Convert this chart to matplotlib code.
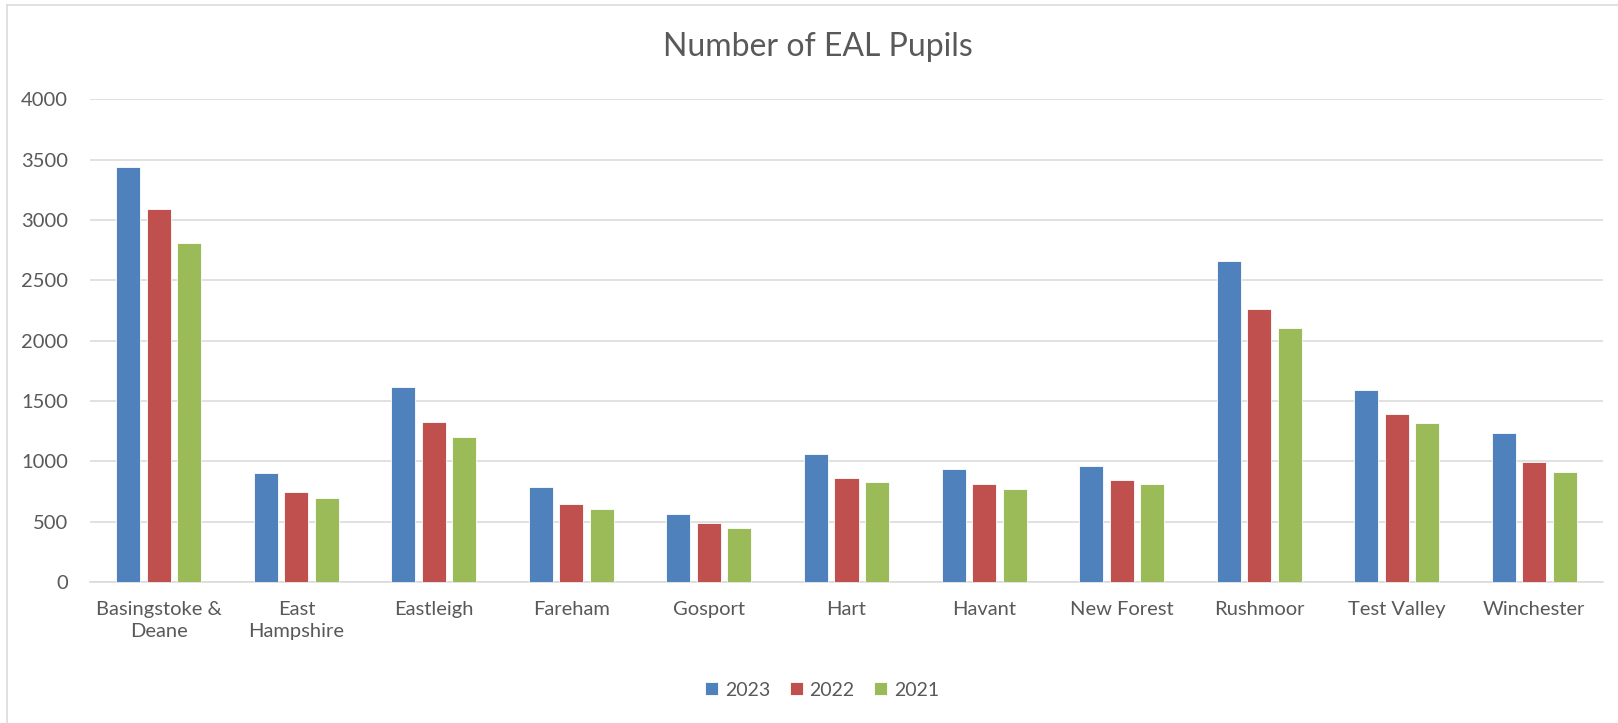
import numpy as np
import matplotlib.pyplot as plt
from matplotlib.lines import Line2D

# data
districts = ["Basingstoke &\nDeane", "East\nHampshire", "Eastleigh", "Fareham", "Gosport",
             "Hart", "Havant", "New Forest", "Rushmoor", "Test Valley", "Winchester"]
years = ["2023", "2022", "2021"]
pupils_2023 = [3436, 903, 1619, 787, 566, 1061, 934, 959, 2663, 1594, 1235]
pupils_2022 = [3091, 746, 1326, 644, 486, 859, 809, 845, 2262, 1395, 997]
pupils_2021 = [2807, 699, 1199, 605, 445, 829, 771, 809, 2102, 1315, 914]
yticks = [0, 500, 1000, 1500, 2000, 2500, 3000, 3500, 4000]

colours = ["#4F81BD", "#C0504D", "#9BBB59"]
txt = "#595959"
grid = "#D9D9D9"

plt.rcParams['font.family'] = ['Lato', 'DejaVu Sans']

fig = plt.figure(figsize=(16.18, 7.23), dpi=100)
ax = fig.add_axes([90 / 1618, 1 - 582 / 723, 1513 / 1618, (582 - 99.3) / 723])

x = np.arange(len(districts))
w = 0.1745
step = 0.222
for i, vals in enumerate([pupils_2023, pupils_2022, pupils_2021]):
    ax.bar(x + (i - 1) * step, vals, width=w, color=colours[i],
           edgecolor="white", linewidth=0.6, label=years[i], zorder=3)

ax.set_xlim(-0.5, len(districts) - 0.5)
ax.set_ylim(0, 4000)
ax.set_yticks(yticks)
ax.set_xticks(x)
ax.set_xticklabels(districts, linespacing=1.3)
ax.yaxis.grid(True, color=grid, linewidth=1.1, zorder=0)
ax.tick_params(axis='both', length=0, labelsize=14.5, labelcolor=txt)
ax.tick_params(axis='x', pad=14)
ax.tick_params(axis='y', pad=16)
for s in ['top', 'right', 'left']:
    ax.spines[s].set_visible(False)
ax.spines['bottom'].set_color(grid)
ax.spines['bottom'].set_linewidth(1.1)

fig.text(818 / 1618, 1 - 47 / 723, "Number of EAL Pupils", ha='center', va='center',
         fontsize=23, color=txt)

leg = fig.legend(loc='center', bbox_to_anchor=(822 / 1618, 1 - 690 / 723), ncol=3,
                 frameon=False, fontsize=14, handlelength=0.67, handleheight=0.67,
                 handletextpad=0.35, columnspacing=1.0, borderpad=0)
for t in leg.get_texts():
    t.set_color(txt)

# chart border (left and top edges visible)
fig.add_artist(Line2D([6.5 / 1618, 6.5 / 1618], [0, 1 - 5 / 723], color=grid, lw=1.1,
                      transform=fig.transFigure))
fig.add_artist(Line2D([6.5 / 1618, 1], [1 - 5 / 723, 1 - 5 / 723], color=grid, lw=1.1,
                      transform=fig.transFigure))

fig.savefig("out.png", dpi=100)
